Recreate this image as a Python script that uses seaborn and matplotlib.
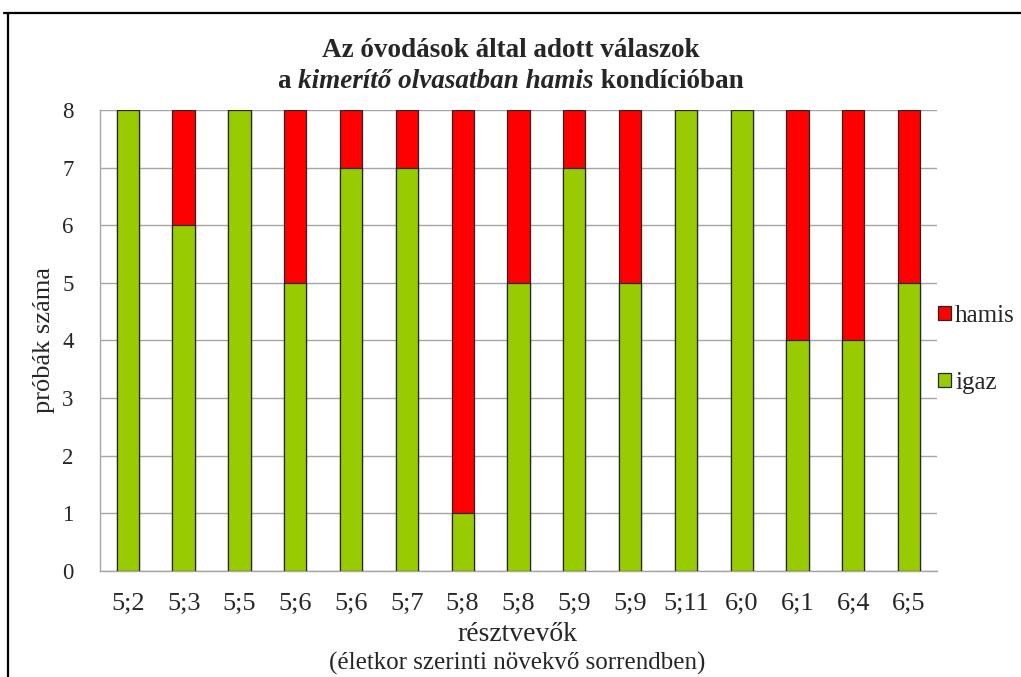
import matplotlib
matplotlib.use("Agg")
import matplotlib.pyplot as plt
import matplotlib.patches as mpatches
from matplotlib.lines import Line2D
import seaborn as sns
import pandas as pd

# Participants ordered by increasing age (years;months)
ages = ["5;2", "5;3", "5;5", "5;6", "5;6", "5;7", "5;8", "5;8",
        "5;9", "5;9", "5;11", "6;0", "6;1", "6;4", "6;5"]
igaz = [8, 6, 8, 5, 7, 7, 1, 5, 7, 5, 8, 8, 4, 4, 5]
hamis = [0, 2, 0, 3, 1, 1, 7, 3, 1, 3, 0, 0, 4, 4, 3]

title_line1 = "Az óvodások által adott válaszok"
title_line2 = [("a ", "normal"), ("kimerítő olvasatban hamis", "italic"), (" kondícióban", "normal")]
y_label = "próbák száma"
x_label = "résztvevők"
x_sublabel = "(életkor szerinti növekvő sorrendben)"

GREEN = "#99CC00"
RED = "#FF0000"
EDGE = "#262626"
GRID = "#A6A6A6"

sns.set_theme(style="white")
plt.rcParams["font.family"] = ["Liberation Serif", "DejaVu Serif"]

df = pd.DataFrame({
    "pid": list(range(len(ages))),
    "igaz": igaz,
    "hamis": hamis,
})
df["osszes"] = df["igaz"] + df["hamis"]

fig = plt.figure(figsize=(10.21, 6.77), dpi=100)
ax = fig.add_axes([0.0979, 0.1566, 0.8198, 0.6809])

# Stacked bars: full height in red, the "igaz" part drawn over it in green
sns.barplot(data=df, x="pid", y="osszes", color=RED, width=0.4,
            edgecolor=EDGE, linewidth=0.9, saturation=1, ax=ax, zorder=3)
sns.barplot(data=df, x="pid", y="igaz", color=GREEN, width=0.4,
            edgecolor=EDGE, linewidth=0.9, saturation=1, ax=ax, zorder=4)

ax.set_xlim(-0.5, len(ages) - 0.5)
ax.set_ylim(0, 8)
ax.set_yticks(range(0, 9))
ax.set_yticklabels([str(v) for v in range(0, 9)], fontsize=16.5)
ax.set_xticks(range(len(ages)))
ax.set_xticklabels(ages, fontsize=19)
ax.set_xticks([i - 0.5 for i in range(len(ages) + 1)], minor=True)
ax.tick_params(axis="x", which="major", length=0, pad=16)
ax.tick_params(axis="x", which="minor", length=8, width=1, color=GRID, direction="out")
ax.tick_params(axis="y", which="major", length=8, width=1, color=GRID, direction="out", pad=11)

ax.grid(axis="y", color=GRID, linewidth=1, zorder=0)
ax.set_axisbelow(True)
for side in ("top", "right"):
    ax.spines[side].set_visible(False)
for side in ("left", "bottom"):
    ax.spines[side].set_color(GRID)
    ax.spines[side].set_linewidth(1)

ax.set_xlabel("")
ax.set_ylabel(y_label, fontsize=19, labelpad=5)

fig.text(0.507, 0.063, x_label, ha="center", va="center", fontsize=20)
fig.text(0.507, 0.020, x_sublabel, ha="center", va="center", fontsize=18)

# Legend
handles = [
    mpatches.Patch(facecolor=RED, edgecolor=EDGE, linewidth=0.9, label="hamis"),
    mpatches.Patch(facecolor=GREEN, edgecolor=EDGE, linewidth=0.9, label="igaz"),
]
fig.legend(handles=handles, loc="center left", bbox_to_anchor=(0.909, 0.484),
           frameon=False, fontsize=18, handlelength=0.5, handleheight=0.5,
           handletextpad=0.18, labelspacing=1.8, borderaxespad=0)

# Title, two lines, second line mixing upright and italic bold text
fig.text(0.5, 0.925, title_line1, ha="center", va="center",
         fontsize=19.5, fontweight="bold")
fig.canvas.draw()
renderer = fig.canvas.get_renderer()
pieces = []
total_w = 0.0
for txt, style in title_line2:
    t = fig.text(0, 0.880, txt, ha="left", va="center", fontsize=19.5,
                 fontweight="bold", fontstyle=style)
    w = t.get_window_extent(renderer).width
    pieces.append((t, w))
    total_w += w
fig_w = fig.get_figwidth() * fig.dpi
x0 = fig_w * 0.5 - total_w / 2
for t, w in pieces:
    t.set_x(x0 / fig_w)
    x0 += w

# Outer frame lines (top and left)
fig.add_artist(Line2D([0.004, 1.0], [0.981, 0.981], transform=fig.transFigure,
                      color="black", linewidth=1.6))
fig.add_artist(Line2D([0.008, 0.008], [0.0, 0.981], transform=fig.transFigure,
                      color="black", linewidth=1.6))

fig.savefig("out.png", dpi=100)
